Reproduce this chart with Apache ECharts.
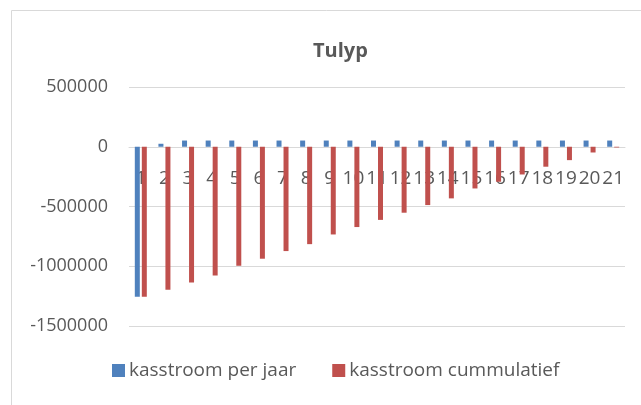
<!DOCTYPE html>
<html>
<head>
<meta charset="utf-8">
<script src="https://cdn.jsdelivr.net/npm/echarts@6/dist/echarts.min.js"></script>
<style>
  html, body { margin: 0; padding: 0; background: #fff; }
  #main { width: 641px; height: 405px; }
</style>
</head>
<body>
<div id="main"></div>
<script>
// jaren 1 t/m 21
var jaren = ['1','2','3','4','5','6','7','8','9','10','11','12','13','14','15','16','17','18','19','20','21'];
// kasstroom per jaar (blauw)
var perJaar = [-1255000, 25000, 52000, 52000, 52000, 52000, 52000, 52000, 52000, 52000, 52000,
               52000, 52000, 52000, 52000, 52000, 52000, 52000, 52000, 52000, 52000];
// kasstroom cummulatief (rood)
var cumulatief = [-1255000, -1197000, -1135000, -1077000, -996000, -937000, -873000, -815000, -734000, -672000,
                  -612000, -552000, -488000, -432000, -349000, -293000, -232000, -167000, -112000, -48000, -6000];
var yTicks = [-1500000, -1000000, -500000, 0, 500000];

var font = "'Open Sans', 'Liberation Sans', sans-serif";
var grijs = '#595959';

var myChart = echarts.init(document.getElementById('main'));

// plot 87..326 px hoog, nul-lijn op 145 -> as omhoog schuiven
var plotTop = 87, plotBottom = 326;
var nulY = plotTop + (plotBottom - plotTop) * (yTicks[yTicks.length - 1] / (yTicks[yTicks.length - 1] - yTicks[0]));

var option = {
    animation: false,
    title: {
        text: 'Tulyp',
        left: 308,
        top: 36,
        textStyle: { fontFamily: font, fontSize: 20, fontWeight: 'bold', color: grijs }
    },
    legend: {
        data: ['kasstroom per jaar', 'kasstroom cummulatief'],
        left: 112,
        top: 361,
        padding: 0,
        itemWidth: 13,
        itemHeight: 13,
        itemGap: 36,
        icon: 'rect',
        textStyle: { fontFamily: font, fontSize: 19, color: grijs, padding: [0, 0, 0, -1] }
    },
    grid: { left: 129, right: 16, top: plotTop, bottom: 405 - plotBottom },
    xAxis: {
        type: 'category',
        data: jaren,
        offset: -(plotBottom - nulY),
        axisTick: { show: false },
        axisLine: { onZero: false, lineStyle: { color: '#d9d9d9' } },
        axisLabel: { interval: 0, margin: 22, fontFamily: font, fontSize: 19, color: grijs }
    },
    yAxis: {
        type: 'value',
        min: yTicks[0],
        max: yTicks[yTicks.length - 1],
        interval: 500000,
        axisLine: { show: false },
        axisTick: { show: false },
        splitLine: { lineStyle: { color: '#d9d9d9' } },
        axisLabel: { margin: 21, fontFamily: font, fontSize: 18, color: grijs,
                     formatter: function (v) { return String(v); } }
    },
    graphic: [{
        type: 'rect',
        shape: { x: 11.5, y: 10.5, width: 700, height: 500 },
        style: { fill: 'none', stroke: '#d9d9d9', lineWidth: 1 },
        silent: true
    }],
    series: [
        {
            name: 'kasstroom per jaar',
            type: 'bar',
            barWidth: 5,
            barGap: '40%',
            itemStyle: { color: '#4f81bd' },
            data: perJaar
        },
        {
            name: 'kasstroom cummulatief',
            type: 'bar',
            barWidth: 5,
            itemStyle: { color: '#c0504d' },
            data: cumulatief
        }
    ]
};

myChart.setOption(option);
</script>
</body>
</html>
